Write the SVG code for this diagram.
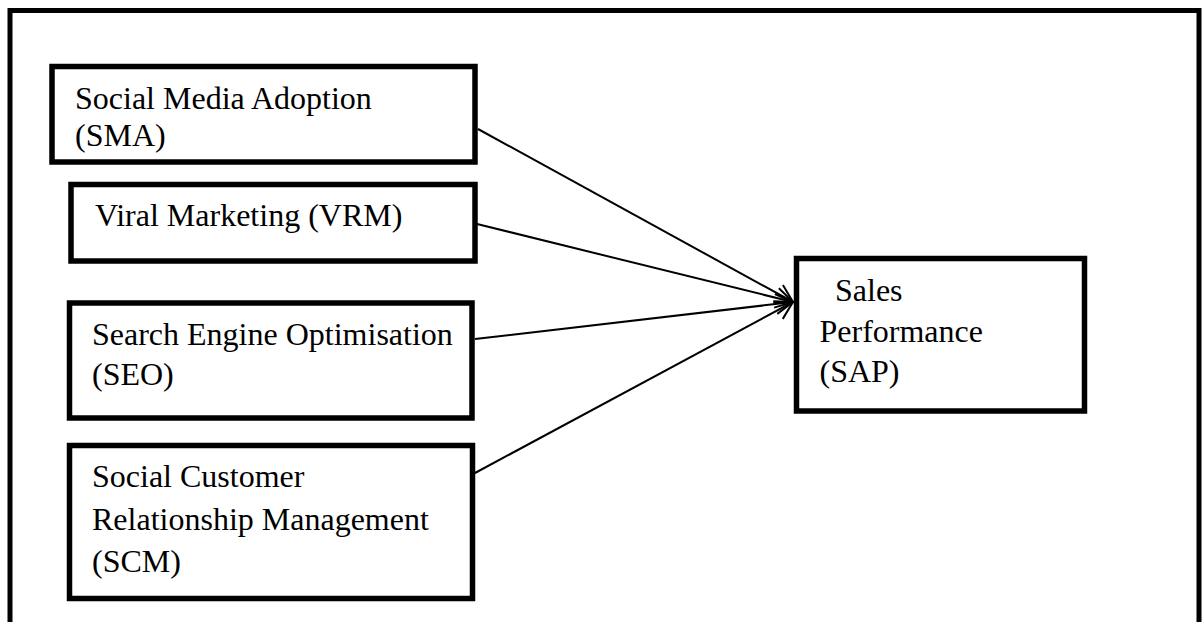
<svg xmlns="http://www.w3.org/2000/svg" width="1204" height="622" viewBox="0 0 1204 622">
  <style>
    .frame { fill: none; stroke: #000; stroke-width: 5; }
    .box { fill: #fff; stroke: #000; stroke-width: 5.5; }
    .label { font-family: "Liberation Serif", "Times New Roman", serif; font-size: 32px; fill: #000; }
    .link { fill: none; stroke: #000; stroke-width: 2; marker-end: url(#head); }
  </style>
  <defs>
    <!-- open chevron arrowhead -->
    <marker id="head" viewBox="0 0 20 22" refX="18" refY="11" markerWidth="20" markerHeight="22" markerUnits="userSpaceOnUse" orient="auto">
      <path d="M1,1 L18,11 L1,21" fill="none" stroke="#000" stroke-width="2"/>
    </marker>
  </defs>

  <rect width="1204" height="622" fill="#fff"/>

  <!-- outer frame; its bottom edge runs off the page -->
  <path class="frame" d="M10,640 L10,10.5 L1199,10.5 L1199,640"/>

  <g id="connectors">
    <line class="link" x1="478" y1="129" x2="793" y2="302"/>
    <line class="link" x1="477" y1="224" x2="793" y2="302"/>
    <line class="link" x1="475" y1="339" x2="793" y2="302"/>
    <line class="link" x1="475" y1="473" x2="793" y2="302"/>
  </g>

  <g id="sma">
    <rect class="box" x="52" y="66.5" width="423" height="95.5"/>
    <text class="label" x="75" y="109">Social Media Adoption</text>
    <text class="label" x="75" y="146">(SMA)</text>
  </g>

  <g id="vrm">
    <rect class="box" x="71" y="184.5" width="404" height="76.5"/>
    <text class="label" x="95" y="226">Viral Marketing (VRM)</text>
  </g>

  <g id="seo">
    <rect class="box" x="69.5" y="303" width="402.5" height="115"/>
    <text class="label" x="92" y="345">Search Engine Optimisation</text>
    <text class="label" x="92" y="385">(SEO)</text>
  </g>

  <g id="scm">
    <rect class="box" x="69.5" y="445.5" width="403" height="153"/>
    <text class="label" x="92" y="487">Social Customer</text>
    <text class="label" x="92" y="529.5">Relationship Management</text>
    <text class="label" x="92" y="572">(SCM)</text>
  </g>

  <g id="sap">
    <rect class="box" x="796.5" y="258.5" width="288" height="152.5"/>
    <text class="label" x="835" y="301">Sales</text>
    <text class="label" x="819.5" y="341.5">Performance</text>
    <text class="label" x="819.5" y="381.5">(SAP)</text>
  </g>
</svg>
